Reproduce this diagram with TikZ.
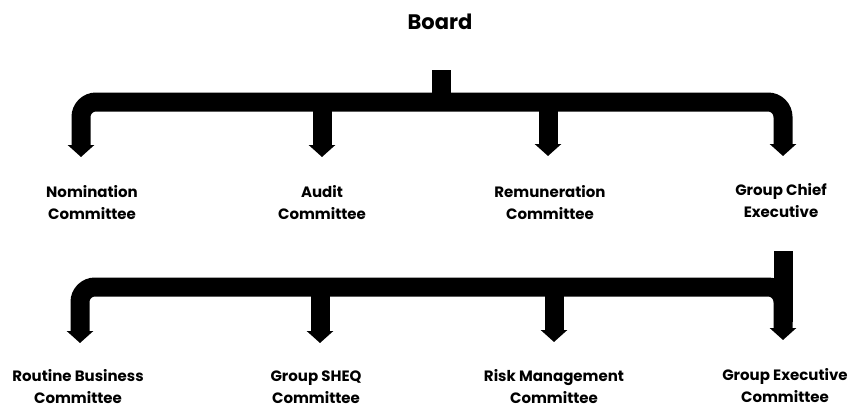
\documentclass[tikz,border=0pt]{standalone}
\usepackage{fontspec}
\setmainfont{Poppins}
\usetikzlibrary{arrows.meta}
\begin{document}
\begin{tikzpicture}[x=1pt,y=-1pt,
  barline/.style={line width=19pt, line cap=butt, rounded corners=15pt},
  arr/.style={barline, -{Triangle[width=26pt,length=12pt]}},
  arr2/.style={barline, {Triangle[width=26pt,length=12pt]}-{Triangle[width=26pt,length=12pt]}},
  lbl/.style={align=center, font=\fontsize{15}{22}\selectfont\bfseries, inner sep=0pt, anchor=base},
  ttl/.style={font=\fontsize{21}{22}\selectfont\bfseries, inner sep=0pt}]
\useasboundingbox (0,0) rectangle (862,410);
% labels
\node[ttl] (board) at (440,22) {Board};
\node[lbl] (nom) at (92,219) {Nomination\\Committee};
\node[lbl] (aud) at (322,219) {Audit\\Committee};
\node[lbl] (rem) at (550,219) {Remuneration\\Committee};
\node[lbl] (gce) at (781,217) {Group Chief\\Executive};
\node[lbl] (rbc) at (78,403) {Routine Business\\Committee};
\node[lbl] (sheq) at (316,403) {Group SHEQ\\Committee};
\node[lbl] (rmc) at (554,403) {Risk Management\\Committee};
\node[lbl] (gec) at (785,402) {Group Executive\\Committee};
% junctions and tips
\coordinate (bs) at (441,70);
\coordinate (j1) at (441,102);
\coordinate (tnom) at (81,157);
\coordinate (taud) at (322,157);
\coordinate (trem) at (548,156);
\coordinate (tgce) at (783,156);
\coordinate (cR1) at (783,102);
\coordinate (gs) at (783,251);
\coordinate (j2) at (783,287);
\coordinate (gm) at (783,322);
\coordinate (trbc) at (80,343);
\coordinate (tsheq) at (320,343);
\coordinate (trmc) at (554,342);
\coordinate (tgec) at (783,340);
% top tier
\draw[barline] (bs) -- (j1);
\draw[arr2] (tnom) |- (cR1) -- (tgce);
\draw[arr] (taud |- j1) -- (taud);
\draw[arr] (trem |- j1) -- (trem);
% bottom tier
\draw[arr2] (trbc) |- (j2) -- (tgec);
\draw[barline] (gs) -- (gm);
\draw[arr] (tsheq |- j2) -- (tsheq);
\draw[arr] (trmc |- j2) -- (trmc);
\end{tikzpicture}
\end{document}
